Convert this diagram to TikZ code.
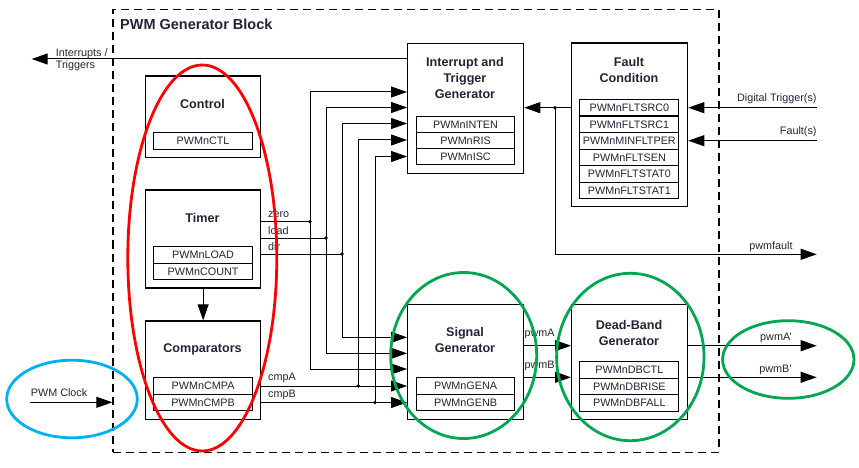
\documentclass[tikz,border=0pt]{standalone}
\usepackage{fontspec}
\setmainfont{Liberation Sans}
\usetikzlibrary{arrows.meta}

\definecolor{txtc}{RGB}{35,35,55}
\definecolor{markred}{RGB}{255,0,0}
\definecolor{markblue}{RGB}{0,176,240}
\definecolor{markgreen}{RGB}{0,166,81}

\newcommand\lblfont{\fontsize{10.8}{11.6}\selectfont}
\newcommand\ttlfont{\fontsize{12.6}{16}\selectfont\bfseries}

\tikzset{
  blockbox/.style={draw, line width=1.3pt, anchor=north west, inner sep=0pt},
  regbox/.style={draw, line width=1.1pt, anchor=north west, inner sep=0pt,
    minimum height=16.5pt, font=\lblfont, text=txtc},
  title/.style={font=\ttlfont, text=txtc, align=center, inner sep=0pt},
  lbl/.style={font=\lblfont, text=txtc, inner sep=0pt},
  wire/.style={line width=1pt},
  hilite/.style={line width=2.8pt},
}

\begin{document}
\begin{tikzpicture}[x=1pt,y=-1pt,>={Triangle[length=16pt,width=11pt]}]
\useasboundingbox (0,0) rectangle (859,468);

% outer dashed block
\node[draw, line width=1.2pt, dash pattern=on 8pt off 5pt, anchor=north west,
  minimum width=606pt, minimum height=442.4pt, inner sep=0pt] (blk) at (112.3,9.3) {};
\node[font=\fontsize{14.5}{16}\selectfont\bfseries, text=txtc, anchor=base west, inner sep=0pt] (blktitle) at (120,30) {PWM Generator Block};

% left column
\node[blockbox, minimum width=115pt, minimum height=81.4pt] (ctl) at (145,75.3) {};
\node[title, anchor=base] (ctltitle) at (202.5,108.3) {Control};
\node[regbox, minimum width=98.4pt] (ctlr) at (153.3,132.3) {PWMnCTL};

\node[blockbox, minimum width=115pt, minimum height=98pt] (tmr) at (145,189.3) {};
\node[title, anchor=base] (tmrtitle) at (202.5,222.3) {Timer};
\node[regbox, minimum width=98.4pt] (tmrload) at (153.3,246) {PWMnLOAD};
\node[regbox, minimum width=98.4pt] (tmrcount) at (153.3,262.5) {PWMnCOUNT};

\node[blockbox, minimum width=115pt, minimum height=98.4pt] (cmp) at (145,320.3) {};
\node[title, anchor=base] (cmptitle) at (202.5,352.7) {Comparators};
\node[regbox, minimum width=98.4pt] (cmpa) at (153.3,377.3) {PWMnCMPA};
\node[regbox, minimum width=98.4pt] (cmpb) at (153.3,393.8) {PWMnCMPB};

% interrupt and trigger generator
\node[blockbox, minimum width=116pt, minimum height=130pt] (itg) at (407,42.7) {};
\node[title] (itgtitle) at (465,78.4) {Interrupt and\\Trigger\\Generator};
\node[regbox, minimum width=98.6pt, minimum height=16.2pt] (itginten) at (415.7,115.7) {PWMnINTEN};
\node[regbox, minimum width=98.6pt, minimum height=16.2pt] (itgris) at (415.7,131.9) {PWMnRIS};
\node[regbox, minimum width=98.6pt, minimum height=16.2pt] (itgisc) at (415.7,148.1) {PWMnISC};

% fault condition
\node[blockbox, minimum width=116pt, minimum height=163.4pt] (flt) at (571,42.3) {};
\node[title] (flttitle) at (629,70) {Fault\\Condition};
\node[regbox, minimum width=99pt] (fltsrc0) at (579.3,99) {PWMnFLTSRC0};
\node[regbox, minimum width=99pt] (fltsrc1) at (579.3,115.5) {PWMnFLTSRC1};
\node[regbox, minimum width=99pt] (fltmin) at (579.3,132) {PWMnMINFLTPER};
\node[regbox, minimum width=99pt] (fltsen) at (579.3,148.5) {PWMnFLTSEN};
\node[regbox, minimum width=99pt] (fltstat0) at (579.3,165) {PWMnFLTSTAT0};
\node[regbox, minimum width=99pt] (fltstat1) at (579.3,181.5) {PWMnFLTSTAT1};

% signal generator
\node[blockbox, minimum width=116pt, minimum height=115pt] (sig) at (407,304) {};
\node[title] (sigtitle) at (465,339.8) {Signal\\Generator};
\node[regbox, minimum width=98.6pt] (sigena) at (415.7,377.3) {PWMnGENA};
\node[regbox, minimum width=98.6pt] (sigenb) at (415.7,393.8) {PWMnGENB};

% dead-band generator
\node[blockbox, minimum width=116pt, minimum height=115pt] (dbg) at (571,304) {};
\node[title] (dbgtitle) at (629,332.5) {Dead-Band\\Generator};
\node[regbox, minimum width=99pt] (dbctl) at (579.3,361) {PWMnDBCTL};
\node[regbox, minimum width=99pt] (dbrise) at (579.3,377.5) {PWMnDBRISE};
\node[regbox, minimum width=99pt] (dbfall) at (579.3,394) {PWMnDBFALL};

% junctions and free ends
\coordinate (zj) at (310,221.7);
\coordinate (lj) at (326,238);
\coordinate (dj) at (342,254);
\coordinate (aj) at (358.3,386);
\coordinate (bj) at (375,402.5);
\coordinate (fj) at (555,107.7);
\coordinate (irq) at (31.7,59);
\coordinate (dtrig) at (816.7,107.7);
\coordinate (fin) at (816.7,140.7);
\coordinate (pfault) at (816.7,254.3);
\coordinate (pwma) at (816.7,345.7);
\coordinate (pwmb) at (816.7,377.3);
\coordinate (clk) at (30,402.3);

% timer outputs
\draw[wire] (tmr.east |- zj) -- (zj);
\draw[wire] (tmr.east |- lj) -- (lj);
\draw[wire] (tmr.east |- dj) -- (dj);
\node[lbl, anchor=base west] (lzero) at (268,217.5) {zero};
\node[lbl, anchor=base west] (lload) at (268,234) {load};
\node[lbl, anchor=base west] (ldir) at (268,250) {dir};

\draw[wire,->] (zj) |- (itg.west |- 0,92);
\draw[wire,->] (lj) |- (itg.west |- 0,107.5);
\draw[wire,->] (dj) |- (itg.west |- 0,123.5);
\draw[wire,->] (aj) |- (itg.west |- 0,140);
\draw[wire,->] (bj) |- (itg.west |- 0,156.5);

\draw[wire,->] (zj) |- (sig.west |- 0,369);
\draw[wire,->] (lj) |- (sig.west |- 0,353.3);
\draw[wire,->] (dj) |- (sig.west |- 0,337.3);

% compare outputs
\draw[wire,->] (cmp.east |- aj) -- (sig.west |- aj);
\draw[wire,->] (cmp.east |- bj) -- (sig.west |- bj);
\node[lbl, anchor=base west] (lcmpa) at (268,380.5) {cmpA};
\node[lbl, anchor=base west] (lcmpb) at (268,397) {cmpB};

\fill (zj) circle (1.9pt);
\fill (lj) circle (1.9pt);
\fill (dj) circle (1.9pt);
\fill (aj) circle (1.9pt);
\fill (bj) circle (1.9pt);

\draw[wire,->] (tmr.south) -- (cmp.north);

% interrupts out
\draw[wire,->] (itg.west |- irq) -- (irq);
\node[lbl, anchor=west, align=left] (lirq) at (55.7,60) {Interrupts /\\Triggers};

% fault path
\draw[wire,->] (flt.west |- fj) -- (itg.east |- fj);
\fill (fj) circle (1.9pt);
\draw[wire,->] (fj) |- (pfault);
\node[lbl, anchor=base east] (lpfault) at (792.7,249) {pwmfault};
\draw[wire,->] (dtrig) -- (flt.east |- dtrig);
\node[lbl, anchor=base east] (ldtrig) at (816.7,102) {Digital Trigger(s)};
\draw[wire,->] (fin) -- (flt.east |- fin);
\node[lbl, anchor=base east] (lfin) at (816.7,135) {Fault(s)};

% pwm outputs
\draw[wire,->] (sig.east |- pwma) -- (dbg.west |- pwma);
\draw[wire,->] (sig.east |- pwmb) -- (dbg.west |- pwmb);
\node[lbl, anchor=base west] (lpwma) at (524.3,336) {pwmA};
\node[lbl, anchor=base west] (lpwmb) at (524.3,368) {pwmB};
\draw[wire,->] (dbg.east |- pwma) -- (pwma);
\draw[wire,->] (dbg.east |- pwmb) -- (pwmb);
\node[lbl, anchor=base east] (lpwmap) at (792,340.7) {pwmA'};
\node[lbl, anchor=base east] (lpwmbp) at (792,372.5) {pwmB'};

% clock in
\draw[wire,->] (clk) -- (blk.west |- clk);
\node[lbl, anchor=base west] (lclk) at (30.7,396.7) {PWM Clock};

% highlight marks
\draw[hilite, markred] (202.3,258) ellipse [x radius=74.5, y radius=193];
\draw[hilite, markblue] (72,399) ellipse [x radius=65.3, y radius=38.8];
\draw[hilite, markgreen] (463.7,355.5) ellipse [x radius=73, y radius=83];
\draw[hilite, markgreen] (630.3,357) ellipse [x radius=73.7, y radius=83.7];
\draw[hilite, markgreen] (788.3,359.5) ellipse [x radius=65.7, y radius=38.8];

\end{tikzpicture}
\end{document}
